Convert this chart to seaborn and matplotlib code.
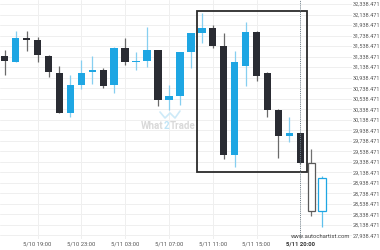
import matplotlib
matplotlib.use("Agg")
import matplotlib.pyplot as plt
import seaborn as sns
import numpy as np
import pandas as pd
from matplotlib.patches import Rectangle

# ---- data ----
opens  = [31344, 31241, 31686, 31648, 31355, 31020, 30271, 30798, 31045, 31083,
          30798, 31507, 31241, 31260, 31464, 30513, 30594, 31431, 31781, 31888,
          31545, 29466, 31165, 31812, 31032, 30322, 29828, 29879, 29309, 28396]
highs  = [31463, 31825, 31825, 31716, 31368, 31159, 30988, 31273, 31349, 31115,
          31526, 31697, 31431, 31907, 31470, 30798, 31431, 31787, 32173, 31939,
          31793, 31445, 32002, 31825, 31051, 30336, 30195, 29885, 29580, 29058]
lows   = [30988, 31229, 31450, 31241, 30944, 30260, 30195, 30722, 30811, 30735,
          30640, 31178, 31083, 31146, 30398, 30322, 30417, 31115, 31602, 31507,
          29390, 29244, 30785, 30874, 30195, 29404, 29719, 29295, 28297, 28103]
closes = [31254, 31686, 31648, 31368, 31039, 30271, 30792, 31032, 31083, 30785,
          31507, 31241, 31260, 31464, 30513, 30594, 31431, 31781, 31888, 31545,
          29466, 31230, 31812, 30975, 30322, 29828, 29879, 29309, 28396, 29038]
projected = [False] * 28 + [True, True]

tick_idx = [3, 7, 11, 15, 19, 23, 27]
tick_labels = ["5/10 19:00", "5/10 23:00", "5/11 03:00", "5/11 07:00",
               "5/11 11:00", "5/11 15:00", "5/11 20:00"]
y_ticks = [27938.471 + 200 * k for k in range(23)]

rect_x = (17.53, 27.58)
rect_y = (29137, 32205)
marker_idx = 27

df = pd.DataFrame({"open": opens, "high": highs, "low": lows,
                   "close": closes, "proj": projected})
df["idx"] = np.arange(len(df))

# ---- style ----
sns.set_theme(style="white")
plt.rcParams["font.family"] = ["Roboto", "DejaVu Sans"]

BLUE = "#1ea6e3"
BLUE_WICK = "#86cff0"
DARK = "#2a2c33"
DARK_WICK = "#6a6a6a"

fig = plt.figure(figsize=(3.8, 2.5), dpi=100)
ax = fig.add_axes([0, 11 / 250, 352 / 380, 239 / 250])

ax.set_xlim(-0.43, 31.72)
ax.set_ylim(27868.8, 32414.55)

# grid
for v in y_ticks:
    ax.axhline(v, color="#efefef", lw=0.7, zorder=0)
for i in tick_idx:
    ax.axvline(i, color="#efefef", lw=0.7, zorder=0)

w = 0.68
min_h = 12
for _, r in df.iterrows():
    up = r["close"] >= r["open"]
    lo_b = min(r["open"], r["close"])
    hi_b = max(r["open"], r["close"])
    h = max(hi_b - lo_b, min_h)
    if r["proj"]:
        ec = BLUE if up else "#5a5a5a"
        wc = "#5ec0ec" if up else "#707070"
        ax.vlines(r["idx"], r["low"], lo_b, color=wc, lw=0.9, zorder=2)
        ax.vlines(r["idx"], hi_b, r["high"], color=wc, lw=0.9, zorder=2)
        ax.add_patch(Rectangle((r["idx"] - w / 2, lo_b), w, h, facecolor="white",
                               edgecolor=ec, lw=0.9, zorder=3))
    else:
        fc = BLUE if up else DARK
        wc = BLUE_WICK if up else DARK_WICK
        ax.vlines(r["idx"], r["low"], r["high"], color=wc, lw=0.9, zorder=2)
        ax.add_patch(Rectangle((r["idx"] - w / 2, lo_b), w, h, facecolor=fc,
                               edgecolor="none", zorder=3))

# pattern rectangle
ax.add_patch(Rectangle((rect_x[0], rect_y[0]), rect_x[1] - rect_x[0],
                       rect_y[1] - rect_y[0], fill=False, edgecolor="#2b2b2b",
                       lw=1.3, zorder=4))
# dotted marker line
ax.axvline(marker_idx, color="#6f7f8a", lw=0.7, ls=(0, (1, 1.2)), zorder=5)

# axes / ticks
for s in ax.spines.values():
    s.set_visible(False)
ax.yaxis.tick_right()
ax.set_yticks(y_ticks)
ax.set_yticklabels([f"{v:,.3f}" for v in y_ticks], fontsize=4.0, color="#555555")
ax.set_xticks(tick_idx)
ax.set_xticklabels(tick_labels, fontsize=4.2, color="#555555")
ax.get_xticklabels()[-1].set_fontweight("bold")
ax.get_xticklabels()[-1].set_color("#333333")
ax.tick_params(axis="y", length=0, pad=0.6)
ax.tick_params(axis="x", length=0, pad=1.5)
ax.set_xlabel("")
ax.set_ylabel("")

# watermark
renderer = fig.canvas.get_renderer()
wy = 1 - 126 / 250
x0 = 141 / 380
parts = [("What", "#d9d9d9"), ("2", "#bfe4f6"), ("Trade", "#d9d9d9")]
for txt, col in parts:
    t = fig.text(x0, wy, txt, fontsize=7, color=col, fontweight="bold",
                 ha="left", va="center")
    bb = t.get_window_extent(renderer=renderer)
    x0 += bb.width / fig.bbox.width
lx = np.array([160, 165, 170, 175, 180]) / 380
ly = 1 - np.array([112, 118, 113, 118, 111]) / 250
fig.add_artist(plt.Line2D(lx, ly, color="#cdeaf8", lw=1.2))

fig.text(350 / 380, 1 - 236 / 250, "www.autochartist.com", fontsize=4.2,
         color="#444444", ha="right", va="center")

fig.savefig("out.png", dpi=100)
